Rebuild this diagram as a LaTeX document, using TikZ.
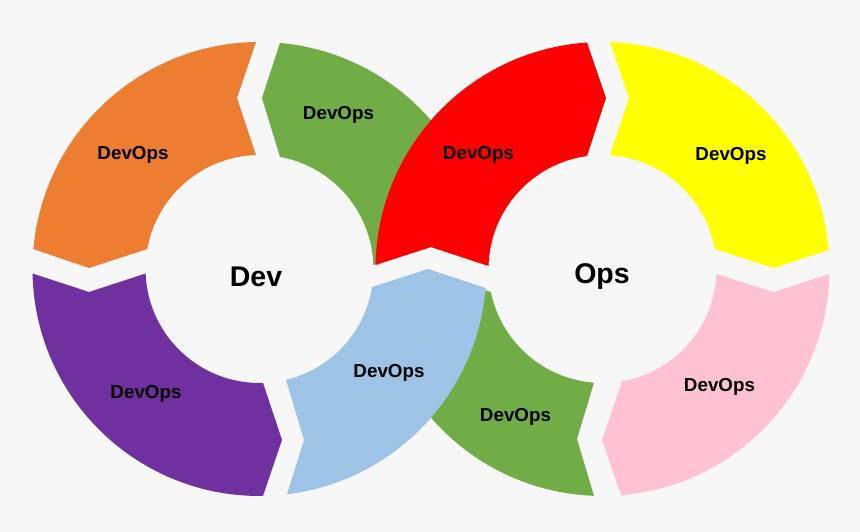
\documentclass[tikz,border=0pt]{standalone}
\usepackage{fontspec}
\setmainfont{Liberation Sans}
\usepackage{xcolor}
\usepackage{tikz}
\definecolor{bgray}{HTML}{F7F7F7}
\definecolor{devorange}{HTML}{ED7D31}
\definecolor{devgreen}{HTML}{70AD47}
\definecolor{devpurple}{HTML}{7030A0}
\definecolor{devblue}{HTML}{9DC3E6}
\definecolor{opsred}{HTML}{FF0000}
\definecolor{opsyellow}{HTML}{FFFF00}
\definecolor{opspink}{HTML}{FFC2D5}
\tikzstyle{devtext}=[font=\bfseries\fontsize{18.8}{22}\selectfont,inner sep=0pt]
\tikzstyle{hubtext}=[font=\bfseries\fontsize{28.5}{32}\selectfont,inner sep=0pt]
\newcommand{\ringpart}[8]{\fill[#1] ([shift={(#3:227)}]#2) arc[start angle=#3,end angle=#4,radius=227] -- #5 -- ([shift={(#6:114)}]#2) arc[start angle=#6,end angle=#7,radius=114] -- #8 -- cycle;}

\begin{document}
\begin{tikzpicture}[x=1pt,y=1pt]
        \fill[bgray] (0,0) rectangle (860,532);
        \useasboundingbox (0,0) rectangle (860,532);
        \coordinate (L) at (259.5,263);
        \coordinate (R) at (602.5,263);
        \ringpart{devgreen}{L}{84.82}{1.0}{(431,285)}{2.0}{79.64}{(262,434)}
        \ringpart{devgreen}{R}{267.85}{185.82}{(428,258)}{191.64}{265.72}{(577,93)}
        \ringpart{devorange}{L}{90.88}{174.95}{(89,264)}{169.9}{91.76}{(237,434)}
        \ringpart{devpurple}{L}{181.14}{270.88}{(282,92)}{271.76}{182.26}{(89,240)}
        \ringpart{opsyellow}{R}{88.11}{4.8}{(774,264)}{10.1}{86.23}{(629,434)}
        \ringpart{opspink}{R}{358.74}{274.68}{(602,92)}{279.85}{357.49}{(774,240)}
        \ringpart{devblue}{L}{276.96}{355.2}{(428,263)}{350.9}{283.44}{(304,92)}
        \ringpart{opsred}{R}{93.92}{178.99}{(431,285)}{178.49}{97.81}{(606,434)}
        \node at (256,255.5) [hubtext] (dev) {Dev};
        \node at (602,255.5) [hubtext] (ops) {Ops};
        \node at (133,377) [devtext] (plan) {DevOps};
        \node at (338.5,417) [devtext] (code) {DevOps};
        \node at (146,138) [devtext] (build) {DevOps};
        \node at (389,159) [devtext] (test) {DevOps};
        \node at (478.5,377) [devtext] (release) {DevOps};
        \node at (731,376) [devtext] (deploy) {DevOps};
        \node at (719.5,145) [devtext] (operate) {DevOps};
        \node at (515.5,115) [devtext] (monitor) {DevOps};
\end{tikzpicture}
\end{document}
